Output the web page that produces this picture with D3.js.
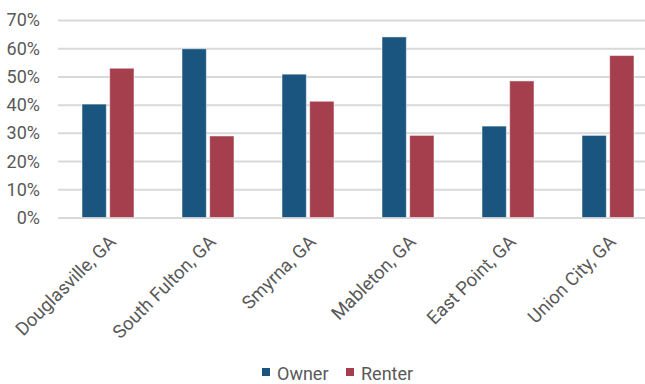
<!DOCTYPE html>
<meta charset='utf-8'>
<head>
  <style>
    body { margin: 0; background: #fff; }
    text { font-family: Roboto, 'DejaVu Sans Condensed', sans-serif; fill: #595959; }
    .grid line { stroke: #d9d9d9; stroke-width: 2; }
    .grid path { display: none; }
  </style>
</head>
<body>
<script src='https://d3js.org/d3.v7.min.js'></script>
<script>

var cities = ['Douglasville, GA', 'South Fulton, GA', 'Smyrna, GA', 'Mableton, GA', 'East Point, GA', 'Union City, GA'];
var owner = [40.2, 59.8, 50.8, 64.0, 32.4, 29.1];
var renter = [52.9, 28.9, 41.2, 29.1, 48.4, 57.4];
var series = ['Owner', 'Renter'];
var colors = ['#1a5580', '#a53f4e'];
var yTicks = [0, 10, 20, 30, 40, 50, 60, 70];

var W = 645, H = 384;
var plotLeft = 58, plotRight = 645, y0 = 217.5, yTop = 20;

var svg = d3.select('body').append('svg')
    .attr('width', W)
    .attr('height', H);

var x = d3.scaleBand().domain(cities).range([plotLeft, plotLeft + 600]).padding(0);
var xs = d3.scaleBand().domain(series).range([24, 76]).paddingInner(0.12);
var y = d3.scaleLinear().domain([0, 70]).range([y0, yTop]);

// gridlines
svg.append('g')
    .attr('class', 'grid')
    .attr('transform', 'translate(' + plotLeft + ',0)')
    .call(d3.axisLeft(y).tickValues(yTicks).tickSize(-(plotRight - plotLeft)).tickFormat(''));

// y labels
svg.append('g').selectAll('text')
    .data(yTicks)
  .enter().append('text')
    .attr('x', 40)
    .attr('y', d => y(d))
    .attr('dy', '0.36em')
    .style('text-anchor', 'end')
    .style('font-size', '18px')
    .text(d => d + '%');

var rows = cities.map((c, i) => ({city: c, values: [owner[i], renter[i]]}));

var groups = svg.append('g').selectAll('g')
    .data(rows)
  .enter().append('g')
    .attr('transform', d => 'translate(' + x(d.city) + ',0)');

groups.selectAll('rect')
    .data(d => d.values.map((v, j) => ({key: series[j], v: v, j: j})))
  .enter().append('rect')
    .attr('x', d => xs(d.key))
    .attr('y', d => y(d.v))
    .attr('width', xs.bandwidth())
    .attr('height', d => y0 - y(d.v))
    .style('fill', d => colors[d.j])
    .style('stroke', '#fff')
    .style('stroke-opacity', 0.5)
    .style('stroke-width', 1);

// x labels
svg.append('g').selectAll('text')
    .data(cities)
  .enter().append('text')
    .attr('transform', d => 'translate(' + (x(d) + x.bandwidth() / 2 + 9) + ',243) rotate(-45)')
    .style('text-anchor', 'end')
    .style('font-size', '18.5px')
    .text(d => d);

// legend
var legendX = [262, 346];
var legend = svg.append('g').selectAll('g')
    .data(series)
  .enter().append('g')
    .attr('transform', (d, i) => 'translate(' + legendX[i] + ',368)');

legend.append('rect')
    .attr('width', 8)
    .attr('height', 8)
    .style('fill', (d, i) => colors[i]);

legend.append('text')
    .attr('x', 15)
    .attr('y', 12)
    .style('font-size', '18px')
    .text(d => d);

</script>
</body>
